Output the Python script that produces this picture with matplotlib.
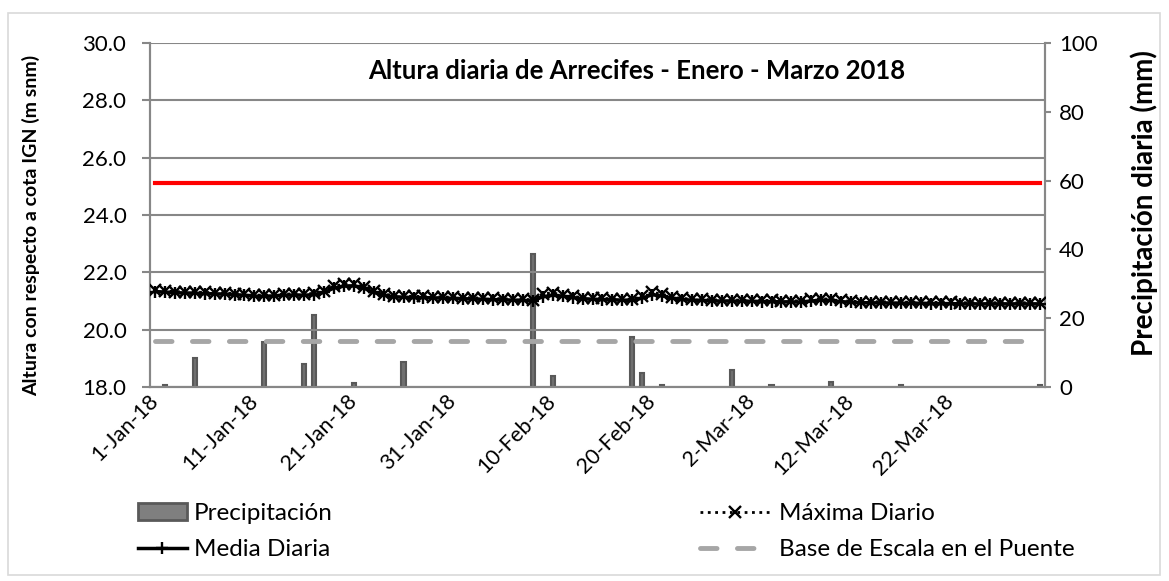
import matplotlib
matplotlib.use("Agg")
import matplotlib.pyplot as plt
from matplotlib.patches import Rectangle, Patch
from matplotlib.lines import Line2D
import numpy as np

plt.rcParams['font.family'] = ['Lato', 'DejaVu Sans']

# ---- data (day index 0 = 1-Jan-18, 90 days to 31-Mar-18) ----
n_days = 90
days = np.arange(n_days)

media_diaria = [
    21.33, 21.31, 21.29, 21.28, 21.27, 21.26, 21.25, 21.24, 21.22, 21.20,
    21.17, 21.16, 21.18, 21.20, 21.21, 21.20, 21.22, 21.30, 21.45, 21.52,
    21.53, 21.45, 21.30, 21.20, 21.15, 21.13, 21.12, 21.12, 21.11, 21.10,
    21.09, 21.08, 21.07, 21.06, 21.05, 21.04, 21.03, 21.02, 21.00, 21.15,
    21.20, 21.17, 21.12, 21.08, 21.06, 21.05, 21.04, 21.03, 21.02, 21.10,
    21.22, 21.18, 21.10, 21.05, 21.03, 21.02, 21.00, 21.00, 21.00, 20.99,
    20.99, 20.98, 20.98, 20.97, 20.97, 20.96, 21.00, 21.03, 21.02, 20.98,
    20.95, 20.94, 20.94, 20.93, 20.93, 20.92, 20.92, 20.92, 20.91, 20.91,
    20.91, 20.90, 20.90, 20.90, 20.90, 20.90, 20.90, 20.90, 20.90, 20.90,
]
maxima_diario = [
    21.38, 21.35, 21.33, 21.32, 21.31, 21.30, 21.29, 21.28, 21.26, 21.24,
    21.21, 21.20, 21.22, 21.24, 21.25, 21.24, 21.27, 21.36, 21.52, 21.58,
    21.58, 21.50, 21.34, 21.24, 21.19, 21.17, 21.16, 21.16, 21.15, 21.14,
    21.13, 21.12, 21.11, 21.10, 21.09, 21.08, 21.07, 21.06, 21.04, 21.26,
    21.28, 21.22, 21.16, 21.12, 21.10, 21.09, 21.08, 21.07, 21.06, 21.16,
    21.30, 21.24, 21.14, 21.09, 21.07, 21.06, 21.04, 21.04, 21.04, 21.03,
    21.03, 21.02, 21.02, 21.01, 21.01, 21.00, 21.06, 21.08, 21.06, 21.02,
    20.99, 20.98, 20.98, 20.97, 20.97, 20.96, 20.96, 20.96, 20.95, 20.95,
    20.95, 20.94, 20.94, 20.94, 20.94, 20.94, 20.94, 20.94, 20.94, 20.94,
]
nivel_rojo = 25.1          # constant red reference level (m)
base_escala = 19.6         # Base de Escala en el Puente (m)

precip_days = [1, 4, 11, 15, 16, 20, 25, 38, 40, 48, 49, 51, 58, 62, 68, 75, 89]
precip_mm   = [0.5, 8.5, 13.2, 6.7, 21.0, 1.2, 7.2, 38.8, 3.2, 14.4, 4.0, 0.5, 4.9, 0.5, 1.5, 0.5, 0.5]

tick_days = [0, 10, 20, 30, 40, 50, 60, 70, 80]
tick_labels = ['1-Jan-18', '11-Jan-18', '21-Jan-18', '31-Jan-18', '10-Feb-18',
               '20-Feb-18', '2-Mar-18', '12-Mar-18', '22-Mar-18']

title = 'Altura diaria de Arrecifes - Enero - Marzo 2018'
ylabel_left = 'Altura con respecto a cota IGN (m snm)'
ylabel_right = 'Precipitación diaria (mm)'

# ---- figure ----
fig = plt.figure(figsize=(11.69, 5.81), dpi=100)
W, H = 1169, 581
l, r, t, b = 150, 1045, 43, 387
ax = fig.add_axes([l / W, 1 - b / H, (r - l) / W, (b - t) / H])
ax2 = ax.twinx()
ax.set_zorder(ax2.get_zorder() + 1)
ax.patch.set_visible(False)

gridc = '#878787'
fs = 16

# bars (precipitation) on right axis
ax2.bar(precip_days, precip_mm, width=0.42, color='#707070', edgecolor='#595959',
        linewidth=1.5, zorder=2)
ax2.set_ylim(0, 100)
ax2.set_yticks(np.arange(0, 101, 20))
ax2.set_yticklabels([str(v) for v in range(0, 101, 20)], fontsize=fs)

# lines on left axis
ax.plot(days, [nivel_rojo] * n_days, color='#FF0000', lw=3, zorder=3)
ax.plot(days, [base_escala] * n_days, color='#A6A6A6', lw=3.5, dashes=(3.4, 4.2),
        dash_capstyle='round', zorder=3)
ax.plot(days, media_diaria, color='black', lw=2.5, marker='+', ms=9, mew=1.7, zorder=4)
ax.plot(days, maxima_diario, color='black', lw=2, ls=':', marker='x', ms=8.5, mew=1.7, zorder=5)

ax.set_ylim(18, 30)
ax.set_yticks(np.arange(18, 30.1, 2))
ax.set_yticklabels([f'{v:.1f}' for v in np.arange(18, 30.1, 2)], fontsize=fs)
ax.set_xlim(-0.5, n_days - 0.5)
ax.set_xticks(tick_days)
ax.set_xticklabels(tick_labels, fontsize=15.5, rotation=45, ha='right', va='center',
                   rotation_mode='anchor')
ax.yaxis.grid(True, color=gridc, lw=1.5, zorder=0)
ax.set_axisbelow(True)

for a in (ax, ax2):
    for s in a.spines.values():
        s.set_color(gridc)
        s.set_linewidth(1.5)
ax.spines['top'].set_visible(False)
ax2.spines['top'].set_visible(False)
ax.tick_params(axis='y', length=6, width=1.5, color=gridc, pad=11)
ax2.tick_params(axis='y', length=4, width=1.5, color=gridc, pad=6)
ax.tick_params(axis='x', length=0, pad=8)

ax.set_ylabel(ylabel_left)
ax.yaxis.label.set_fontsize(14)
ax.yaxis.label.set_fontweight('bold')
ax.yaxis.set_label_coords(-0.123, 0.471)
ax2.set_ylabel(ylabel_right)
ax2.yaxis.label.set_fontsize(20)
ax2.yaxis.label.set_fontweight('bold')
ax2.yaxis.set_label_coords(1.095, 0.535)

ax.text(0.544, 0.92, title, transform=ax.transAxes, ha='center', va='center',
        fontsize=18.5, fontweight='bold')

# legends
lfs = 17.5
h_prec = Patch(facecolor='#7f7f7f', edgecolor='#595959', linewidth=2)
h_media = Line2D([], [], color='black', lw=2.5, marker='+', ms=9, mew=1.7)
h_max = Line2D([], [], color='black', lw=2, ls=':', marker='x', ms=8.5, mew=1.7)
h_base = Line2D([], [], color='#A6A6A6', lw=3.5, dashes=(3.4, 4.2), dash_capstyle='round')

leg1 = fig.legend([h_prec, h_media], ['Precipitación', 'Media Diaria'],
                  loc='upper left', bbox_to_anchor=(138 / W, 1 - 503 / H),
                  frameon=False, fontsize=lfs, handlelength=2.0, handletextpad=0.3,
                  labelspacing=0.62, borderpad=0, borderaxespad=0)
leg2 = fig.legend([h_max, h_base], ['Máxima Diario', 'Base de Escala en el Puente'],
                  loc='upper left', bbox_to_anchor=(700 / W, 1 - 503 / H),
                  frameon=False, fontsize=lfs, handlelength=2.9, handletextpad=0.35,
                  labelspacing=0.62, borderpad=0, borderaxespad=0)

# outer frame
fig.patches.append(Rectangle((8 / W, 1 - 575 / H), 1152 / W, 562 / H, transform=fig.transFigure,
                             fill=False, edgecolor='#d9d9d9', lw=1.2))

fig.savefig('out.png', dpi=100)
